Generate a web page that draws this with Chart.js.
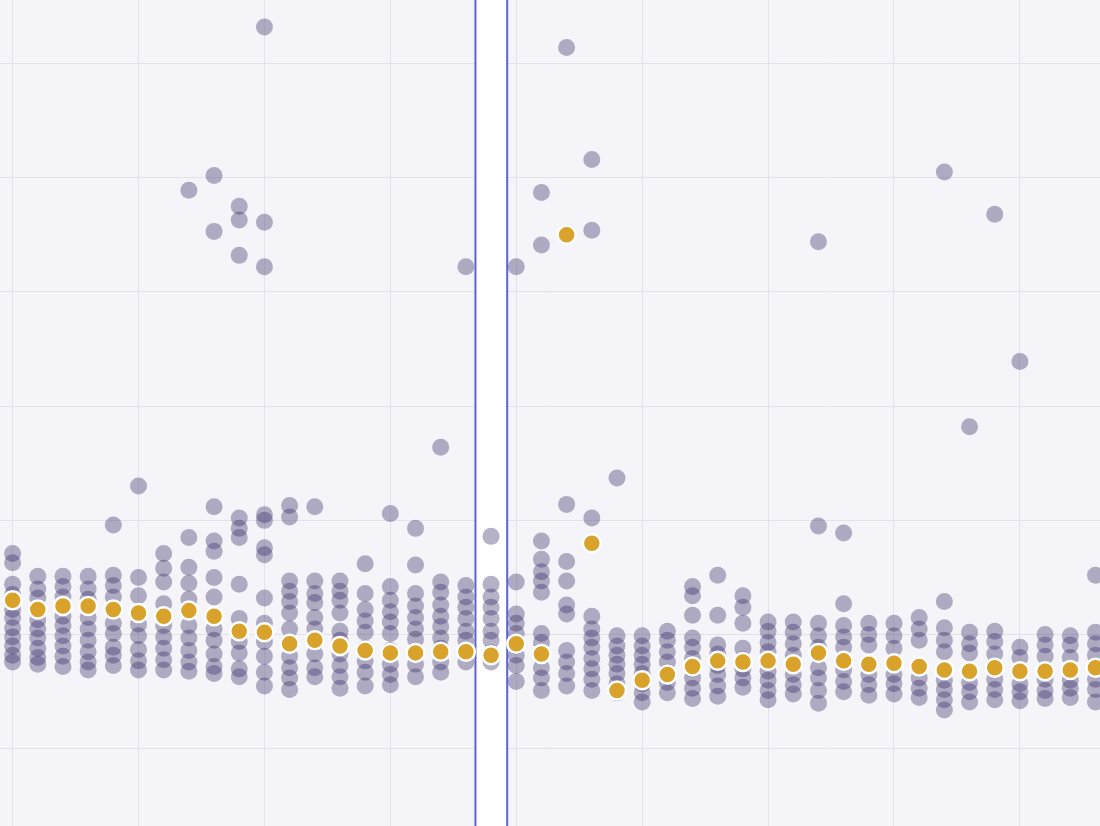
<!DOCTYPE html>
<html>
<head>
<meta charset="utf-8">
<script src="https://cdn.jsdelivr.net/npm/chart.js@4/dist/chart.umd.min.js"></script>
<style>
  html, body { margin: 0; padding: 0; background: #f5f4f8; overflow: hidden; }
  #outer { width: 1100px; height: 826px; overflow: hidden; position: relative; }
  #wrap { width: 1124px; height: 850px; position: absolute; left: -12px; top: -12px; }
</style>
</head>
<body>
<div id="outer"><div id="wrap"><canvas id="scatterChart"></canvas></div></div>
<script>
// column index -> median value (gold)
let medians = [53.0, 52.2, 52.5, 52.5, 52.2, 51.9, 51.6, 52.1, 51.6, 50.3,
    50.2, 49.2, 49.5, 49.0, 48.6, 48.4, 48.4, 48.5, 48.5, 48.2,
    49.2, 48.3, 85.0, 58.0, 45.1, 46.0, 46.5, 47.2, 47.7, 47.6,
    47.7, 47.4, 48.4, 47.7, 47.4, 47.5, 47.2, 46.9, 46.8, 47.1,
    46.8, 46.8, 46.9, 47.1]

// every sample per column (purple)
let samples = [
    [57.1, 56.3, 54.4, 53.5, 52.2, 51.5, 50.6, 49.8, 49.0, 48.2, 47.6],
    [55.1, 54.0, 53.2, 51.3, 50.5, 49.7, 48.8, 48.0, 47.4],
    [55.1, 54.2, 53.3, 51.6, 50.8, 49.9, 49.0, 48.1, 47.2],
    [55.1, 54.0, 53.1, 51.5, 50.5, 49.5, 48.5, 47.6, 46.9],
    [59.6, 55.2, 54.3, 53.3, 51.0, 50.1, 48.9, 48.2, 47.3],
    [63.0, 55.0, 53.4, 50.9, 49.9, 48.7, 47.7, 46.9],
    [57.1, 55.8, 54.6, 52.7, 50.8, 49.8, 48.8, 47.8, 46.9],
    [88.9, 58.5, 55.9, 54.5, 53.1, 50.8, 49.7, 48.6, 47.6, 46.8],
    [90.2, 85.3, 61.2, 58.2, 57.3, 55.0, 53.3, 50.5, 49.5, 48.3, 47.2, 46.6],
    [87.5, 86.3, 83.2, 60.2, 59.3, 58.5, 54.4, 51.4, 49.4, 48.4, 47.0, 46.3],
    [103.2, 86.1, 82.2, 60.5, 60.0, 57.6, 57.0, 53.2, 51.0, 49.4, 48.1, 46.7, 45.5],
    [61.3, 60.3, 54.7, 53.8, 52.9, 51.9, 50.5, 49.2, 48.1, 47.1, 46.2, 45.2],
    [61.2, 54.7, 53.6, 52.8, 51.5, 50.5, 49.3, 48.3, 47.1, 46.3],
    [54.7, 53.8, 53.0, 51.9, 50.3, 49.5, 48.3, 47.3, 46.3, 45.3],
    [56.2, 53.6, 52.2, 51.2, 50.2, 48.8, 47.7, 46.7, 45.5],
    [60.6, 54.2, 53.0, 52.0, 51.1, 50.1, 48.6, 47.4, 46.5, 45.6],
    [59.3, 56.1, 53.6, 52.5, 51.5, 50.5, 49.6, 48.3, 47.4, 46.3],
    [66.4, 54.6, 53.7, 52.6, 51.6, 50.7, 49.7, 48.8, 47.6, 46.7],
    [82.2, 54.3, 53.3, 52.4, 51.4, 50.3, 49.5, 48.6, 47.6],
    [58.6, 54.4, 53.3, 52.4, 51.4, 50.3, 49.5, 48.4, 47.6],
    [82.2, 54.6, 51.8, 51.0, 50.1, 49.0, 48.2, 47.3, 45.9],
    [88.7, 84.1, 58.2, 56.6, 55.5, 54.7, 53.7, 50.1, 49.3, 48.4, 47.1, 46.2, 45.1],
    [101.4, 61.4, 56.4, 54.7, 52.6, 51.8, 48.6, 47.6, 46.6, 45.5],
    [91.6, 85.4, 60.2, 51.6, 50.5, 49.7, 48.9, 47.9, 47.0, 46.1, 45.1],
    [63.7, 49.9, 49.0, 48.2, 47.4, 46.6, 45.7, 44.9],
    [49.9, 49.0, 48.2, 47.4, 46.6, 45.7, 44.9, 44.1],
    [50.3, 49.5, 48.5, 47.6, 46.7, 45.8, 44.9],
    [54.2, 53.4, 51.7, 49.7, 48.9, 47.9, 47.0, 46.2, 45.3, 44.4],
    [55.2, 51.7, 49.1, 48.3, 47.3, 46.5, 45.5, 44.6],
    [53.4, 52.4, 51.0, 48.8, 47.8, 47.0, 46.2, 45.4],
    [51.1, 50.3, 49.3, 48.5, 46.8, 46.0, 45.1, 44.3],
    [51.1, 50.2, 49.2, 48.2, 46.5, 45.6, 44.8],
    [84.4, 59.5, 51.0, 49.9, 48.9, 47.1, 46.2, 45.1, 44.0],
    [58.9, 52.7, 50.8, 49.8, 48.9, 46.9, 45.9, 45.0],
    [51.0, 50.0, 49.1, 46.5, 45.6, 44.7],
    [51.0, 49.9, 48.8, 46.5, 45.7, 44.8],
    [51.5, 50.5, 49.5, 46.2, 45.3, 44.5],
    [90.5, 52.9, 50.6, 49.5, 48.5, 46.0, 45.2, 44.3, 43.4],
    [68.2, 50.2, 49.2, 48.4, 45.8, 45.0, 44.1],
    [86.8, 50.3, 49.4, 48.3, 46.1, 45.2, 44.3],
    [73.9, 48.9, 48.0, 45.7, 45.0, 44.2],
    [50.0, 49.1, 48.1, 46.1, 45.1, 44.4],
    [49.9, 49.1, 48.0, 46.0, 45.3, 44.5],
    [55.2, 50.2, 49.2, 48.2, 46.1, 45.2, 44.1]
]

let highlightIndex = 19
let xRange = [-0.52, 43.2]
let yRange = [33.2, 105.6]

let samplePoints = []
for (let i = 0; i < samples.length; i++) {
    for (let j = 0; j < samples[i].length; j++) {
        samplePoints.push({ x: i, y: samples[i][j] })
    }
}
let medianPoints = medians.map((v, i) => ({ x: i, y: v }))

// white column with blue edges behind the points
const highlightBand = {
    id: 'highlightBand',
    beforeDatasetsDraw(chart) {
        let ctx = chart.ctx
        let xs = chart.scales.x
        let left = xs.getPixelForValue(highlightIndex - 0.62)
        let right = xs.getPixelForValue(highlightIndex + 0.64)
        ctx.save()
        ctx.fillStyle = '#ffffff'
        ctx.fillRect(left, 0, right - left, chart.height)
        ctx.strokeStyle = '#5b63d6'
        ctx.lineWidth = 2
        ctx.beginPath()
        ctx.moveTo(left, 0); ctx.lineTo(left, chart.height)
        ctx.moveTo(right, 0); ctx.lineTo(right, chart.height)
        ctx.stroke()
        ctx.restore()
    }
}

let ctx = document.getElementById("scatterChart").getContext("2d")
new Chart(ctx, {
    type: 'scatter',
    data: {
        datasets: [{
            label: 'Samples',
            data: samplePoints,
            backgroundColor: 'rgba(50, 38, 100, 0.36)',
            borderWidth: 0,
            pointRadius: 8.5,
            pointHoverRadius: 8.5,
            order: 2
        }, {
            label: 'Median',
            data: medianPoints,
            backgroundColor: '#d8a22b',
            borderColor: '#ffffff',
            borderWidth: 2.5,
            pointRadius: 9,
            pointHoverRadius: 9,
            order: 1
        }]
    },
    options: {
        responsive: true,
        maintainAspectRatio: false,
        animation: false,
        layout: { padding: 0 },
        plugins: { legend: { display: false }, tooltip: { enabled: false } },
        scales: {
            x: {
                type: 'linear', min: xRange[0], max: xRange[1],
                ticks: { display: false },
                afterBuildTicks: (s) => { s.ticks = [0, 5, 10, 15, 20, 25, 30, 35, 40].map(v => ({ value: v })) },
                grid: { color: '#e4e1ea', drawTicks: false, lineWidth: 1 },
                border: { display: false }
            },
            y: {
                min: yRange[0], max: yRange[1],
                ticks: { display: false },
                afterBuildTicks: (s) => { s.ticks = [40, 50, 60, 70, 80, 90, 100].map(v => ({ value: v })) },
                grid: { color: '#e4e1ea', drawTicks: false, lineWidth: 1 },
                border: { display: false }
            }
        }
    },
    plugins: [highlightBand]
})
</script>
</body>
</html>
